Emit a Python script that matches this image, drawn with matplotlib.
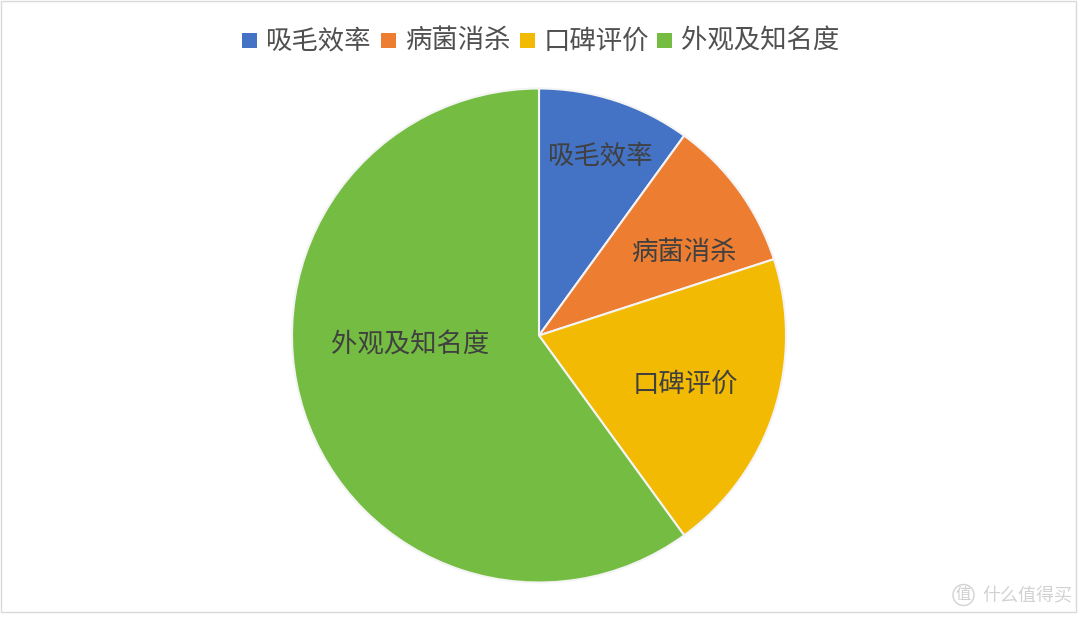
#!/usr/bin/env python3
import matplotlib
matplotlib.use('Agg')
from matplotlib import pyplot as plt
from matplotlib.patches import Rectangle, Ellipse

plt.rcParams['font.family'] = ['Noto Sans CJK SC', 'DejaVu Sans']

# Values (percent)
categories = ['吸毛效率', '病菌消杀', '口碑评价', '外观及知名度']
values = [10, 10, 20, 60]
colors = ['#4472C4', '#ED7D31', '#F2BA02', '#75BD42']
watermark = '什么值得买'
watermark_icon = '值'

W, H = 1080, 617
fig = plt.figure(figsize=(W / 100, H / 100), dpi=100, facecolor='white')

# outer frame
fig.add_artist(Rectangle((1 / W, 1 - 612 / H), 1075 / W, 611 / H, transform=fig.transFigure,
                         fill=False, edgecolor='#D9D9D9', linewidth=1))

# pie centre (539, 335.5) radius 247 px
size = 2 * 247 + 8
ax = fig.add_axes([(539 - size / 2) / W, 1 - (335.5 + size / 2) / H, size / W, size / H])
wedges, texts = ax.pie(values, colors=colors, startangle=90, counterclock=False, radius=247 / 251,
                       wedgeprops={'edgecolor': '#F4F4F4', 'linewidth': 1.5})
ax.set_xlim(-1, 1)
ax.set_ylim(-1, 1)

# slice labels, placed in pixels
label_pos = [(600.5, 156), (683.5, 253), (685, 384), (410, 345)]
for name, (px, py) in zip(categories, label_pos):
    fig.text(px / W, 1 - py / H, name, fontsize=19, color='#404040', ha='center', va='center',
             fontweight='medium')

# legend, placed in pixels
legend_x = [242, 381, 520, 657]
for name, color, px in zip(categories, colors, legend_x):
    fig.add_artist(Rectangle((px / W, 1 - 48 / H), 15 / W, 15 / H, transform=fig.transFigure,
                             facecolor=color, edgecolor='none'))
    fig.text((px + 24) / W, 1 - 41 / H, name, fontsize=19, color='#505050', ha='left', va='center',
             fontweight='medium')

# watermark
fig.text(982 / W, 1 - 596 / H, watermark, fontsize=13, color='#D2D2D2', ha='left', va='center')
fig.add_artist(Ellipse((963.5 / W, 1 - 595 / H), 21 / W, 21 / H, transform=fig.transFigure,
                       fill=False, edgecolor='#D2D2D2', linewidth=1))
fig.text(963.5 / W, 1 - 595 / H, watermark_icon, fontsize=11, color='#CFCFCF', ha='center', va='center')

fig.savefig('out.png', dpi=100)
